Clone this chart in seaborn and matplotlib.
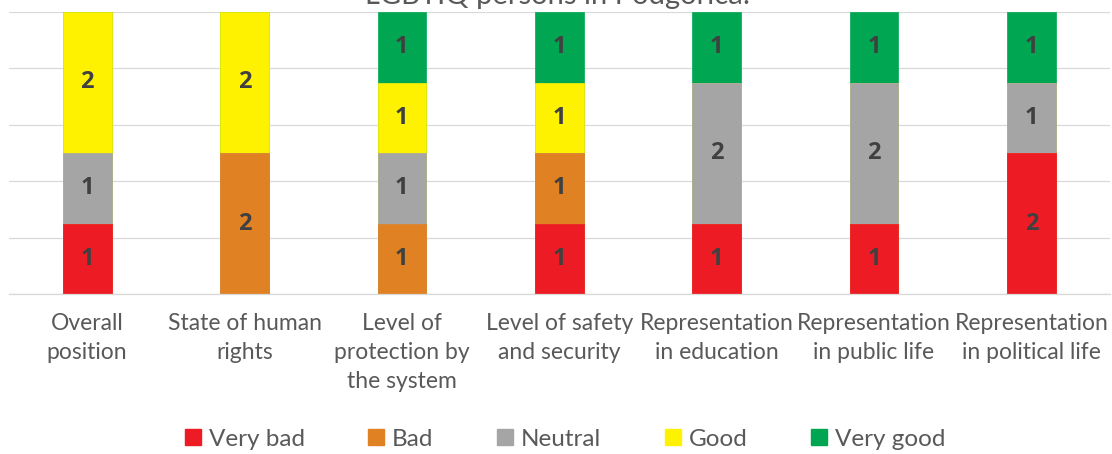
import matplotlib
matplotlib.use("Agg")
import matplotlib.pyplot as plt
from matplotlib.lines import Line2D
import seaborn as sns
import pandas as pd

# categories on the x axis
categories = ["Overall\nposition", "State of human\nrights", "Level of\nprotection by\nthe system",
              "Level of safety\nand security", "Representation\nin education",
              "Representation\nin public life", "Representation\nin political life"]

# answers per rating (counts)
levels = ["Very bad", "Bad", "Neutral", "Good", "Very good"]
very_bad = [1, 0, 0, 1, 1, 1, 2]
bad = [0, 2, 1, 1, 0, 0, 0]
neutral = [1, 0, 1, 0, 2, 2, 1]
good = [2, 2, 1, 1, 0, 0, 0]
very_good = [0, 0, 1, 1, 1, 1, 1]
colors = ["#ED1C24", "#E08224", "#A5A5A5", "#FFF200", "#00A651"]

title = "LGBTIQ persons in Podgorica:"

sns.set_style("white")
plt.rcParams["font.family"] = ["Lato", "DejaVu Sans"]

df = pd.DataFrame({"Category": categories, "Very bad": very_bad, "Bad": bad,
                   "Neutral": neutral, "Good": good, "Very good": very_good})
totals = df[levels].sum(axis=1)
pct = df[levels].div(totals, axis=0) * 100  # 100% stacked
cum = pct.cumsum(axis=1)

fig = plt.figure(figsize=(11.12, 4.54), dpi=100)
ax = fig.add_axes([8.5 / 1112, 1 - 294 / 454, 1101.5 / 1112, 282 / 454])

# draw the cumulative bars from the top layer down so they stack
for lev, col in reversed(list(zip(levels, colors))):
    sns.barplot(x=df["Category"], y=cum[lev], color=col, saturation=1, width=0.31,
                edgecolor=col, linewidth=0.5, ax=ax)

# value labels in the middle of every segment
for i in range(len(categories)):
    for lev in levels:
        v = df.loc[i, lev]
        if v > 0:
            mid = cum.loc[i, lev] - pct.loc[i, lev] / 2
            ax.text(i, mid, str(v), ha="center", va="center", fontsize=17,
                    fontweight="bold", family=["Open Sans", "DejaVu Sans"], color="#404040")

ax.set_ylim(0, 100)
ax.set_xlim(-0.5, len(categories) - 0.5)
ax.set_yticks([0, 20, 40, 60, 80, 100])
ax.set_yticklabels([])
ax.yaxis.grid(True, color="#D9D9D9", linewidth=0.9)
ax.set_axisbelow(True)
ax.set_xlabel("")
ax.set_ylabel("")
for s in ["top", "left", "right"]:
    ax.spines[s].set_visible(False)
ax.spines["bottom"].set_color("#D9D9D9")
ax.spines["bottom"].set_linewidth(0.9)
ax.tick_params(axis="x", length=0, pad=14, labelsize=16.5, labelcolor="#595959")
ax.tick_params(axis="y", length=0)
for t in ax.get_xticklabels():
    t.set_linespacing(1.45)

fig.text(0.501, 1 - 4 / 454, title, ha="center", va="baseline", fontsize=21, color="#595959")

handles = [Line2D([], [], marker="s", linestyle="none", markersize=11, color=c) for c in colors]
fig.legend(handles, levels, loc="center", bbox_to_anchor=(0.508, 15 / 454), ncol=5,
           frameon=False, fontsize=17.5, handlelength=0.7, handletextpad=0.3,
           columnspacing=2.6, labelcolor="#595959", borderpad=0)

fig.savefig("out.png", dpi=100)
